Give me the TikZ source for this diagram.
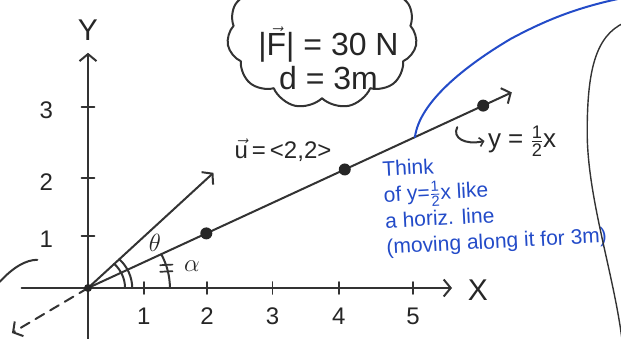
\documentclass[tikz,border=0pt]{standalone}
\usepackage{amsmath}
\usepackage{fontspec}
\setmainfont{Liberation Sans}
\usetikzlibrary{arrows.meta,shapes.symbols}

\newcommand{\mezzo}{$\frac{\textnormal{1}}{\textnormal{2}}$}

\begin{document}
\begin{tikzpicture}[x=65pt, y=60pt, line cap=round, line join=round,
    penna/.style={line width=2pt, draw=black!80},
    punta/.style={-{Straight Barb[length=7pt,width=17pt,line width=2pt]}},
    pallino/.style={circle, fill=black!85, inner sep=0pt, minimum size=12pt},
    tacca/.style={line width=1.7pt, draw=black!80},
    numero/.style={font=\fontsize{24}{26}\selectfont, text=black!85},
    medio/.style={font=\fontsize{24}{26}\selectfont, text=black!85},
    grande/.style={font=\fontsize{32}{31}\selectfont, text=black!85},
    nuvola/.style={cloud, cloud puffs=11, cloud puff arc=110, aspect=1.4,
        draw=black!80, line width=2pt, minimum width=190pt, minimum height=148pt},
    biro/.style={draw=blu, line width=2pt},
    ]
    % Colori della penna
    \definecolor{blu}{RGB}{35,75,200}

    % Bordo della figura
    \useasboundingbox (-88pt,-51pt) rectangle (533pt,288pt);
    \clip (-88pt,-51pt) rectangle (533pt,288pt);

    % Assi
    \coordinate (O) at (0,0);
    \draw[penna,punta] (-1.02,0) -- (5.6,0);
    \draw[penna,punta] (0,-0.9) -- (0,3.92);
    \node[font=\fontsize{30}{32}\selectfont, text=black!85] (asseX) at (6.0,-0.03) {X};
    \node[font=\fontsize{30}{32}\selectfont, text=black!85] (asseY) at (0,4.3) {Y};

    % Tacche e numeri
    \foreach \x/\t in {0.86/1, 1.83/2, 2.84/3, 3.86/4, 5.0/5} {
        \draw[tacca] (\x,-0.1) -- (\x,0.1);
        \node[numero] (nx\t) at (\x,-0.47) {\t};
    }
    \foreach \y/\t in {0.87/1, 1.83/2, 3.02/3} {
        \draw[tacca] (-0.1,\y) -- (0.1,\y);
        \node[numero] (ny\t) at (-0.64,\y-0.06) {\t};
    }

    % Vettore u
    \coordinate (u) at (1.93,1.92);
    \draw[penna,punta] (O) -- (u);
    \node[medio] (etiU) at (3.0,2.3) {$\vec{\textnormal{u}}$\,=\,<2,2>};

    % Retta y = x/2 con i punti
    \coordinate (fine) at (6.52,3.26);
    \coordinate (coda) at (-1.17,-0.75);
    \draw[penna,punta] (O) -- (fine);
    \draw[penna,punta,dash pattern=on 10pt off 7pt] (O) -- (coda);
    \node[pallino] (p1) at (1.82,0.91) {};
    \node[pallino] (p2) at (3.95,1.975) {};
    \node[pallino] (p3) at (6.08,3.04) {};
    \node[pallino, minimum size=8pt] (p0) at (O) {};

    % Angoli
    \draw[penna] (0.57,0) arc[start angle=0, end angle=45, radius=0.57];
    \draw[penna] (0.68,0) arc[start angle=0, end angle=45, radius=0.68];
    \draw[penna] (1.26,0) arc[start angle=0, end angle=26.57, radius=1.26];
    \draw[tacca] (1.11,0.38) -- (1.3,0.39);
    \draw[tacca] (1.11,0.27) -- (1.3,0.28);
    \node[font=\fontsize{28}{30}\selectfont, text=black!85] (theta) at (1.03,0.75) {$\theta$};
    \node[font=\fontsize{28}{30}\selectfont, text=black!85] (alfa) at (1.6,0.36) {$\alpha$};

    % Etichetta della retta
    \coordinate (gancio) at (5.68,2.68);
    \node[font=\fontsize{26}{28}\selectfont, text=black!85, anchor=west] (retta) at (6.1,2.45) {y = \mezzo x};
    \draw[penna, -{Straight Barb[length=4pt,width=9pt,line width=1.6pt]}]
        (gancio) .. controls (5.6,2.5) and (5.8,2.38) .. (retta.west);

    % Nuvola con i dati
    \node[nuvola] (nube) at (3.6,4.22) {};
    \node[grande, align=center] (forza) at (3.7,3.83)
        {|$\vec{\textnormal{F}}$| = 30 N\\[3pt]d = 3m};

    % Note in blu
    \coordinate (attacco) at (5.03,2.515);
    \draw[biro] (attacco) .. controls (5.1,3.1) and (5.8,3.7) .. (6.5,4.15)
        .. controls (7.1,4.5) and (7.6,4.7) .. (8.3,4.85);
    \node[font=\fontsize{21}{26}\selectfont, text=blu, align=left, anchor=north west,
        inner sep=0pt, rotate=3] (pensa) at (4.52,2.12)
        {Think\\of y=\mezzo x like\\a horiz. line\\(moving along it for 3m)};

    % Curva a destra
    \draw[line width=1.4pt, draw=black!80] (8.25,4.42) .. controls (7.8,4.2) and (7.68,3.6) .. (7.68,2.6)
        .. controls (7.68,1.5) and (8.1,0.2) .. (8.22,-0.9);

    % Tratto a sinistra
    \draw[penna] (-1.36,0.1) .. controls (-1.15,0.35) and (-0.95,0.47) .. (-0.78,0.47);
\end{tikzpicture}
\end{document}
